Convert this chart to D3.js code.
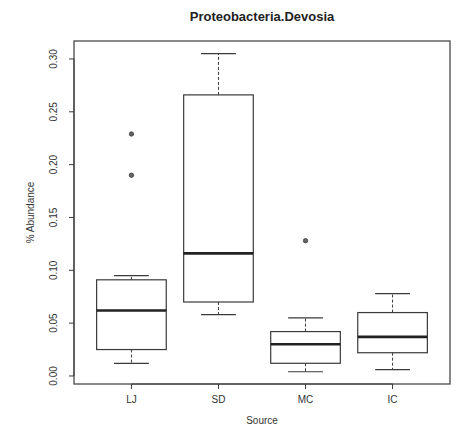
<!DOCTYPE html>
<html>
<head>
<meta charset="utf-8">
<script src="https://cdn.jsdelivr.net/npm/d3@7"></script>
<style>
  html, body { margin: 0; padding: 0; background: #fff; }
  svg { display: block; font-family: "Liberation Sans", Arial, sans-serif; }
</style>
</head>
<body>
<svg id="chart" width="462" height="435"></svg>
<script>
// Groups along the x axis
const groups = ["LJ", "SD", "MC", "IC"];
// Five-number summaries per group (lower whisker, Q1, median, Q3, upper whisker)
const whiskerLow  = [0.012, 0.058, 0.004, 0.006];
const boxLow      = [0.025, 0.070, 0.012, 0.022];
const medians     = [0.062, 0.116, 0.030, 0.037];
const boxHigh     = [0.091, 0.266, 0.042, 0.060];
const whiskerHigh = [0.095, 0.305, 0.055, 0.078];
// Outlying points: group index and value
const outlierGroup = [0, 0, 2];
const outlierValue = [0.229, 0.190, 0.128];
// Y axis tick values
const yTicks = [0.00, 0.05, 0.10, 0.15, 0.20, 0.25, 0.30];

const svg = d3.select("#chart");
const plot = { left: 74, right: 450, top: 41, bottom: 384 };
const ink = "#3a3a3a";

const x = d3.scaleLinear().domain([0.34, 4.66]).range([plot.left, plot.right]);
const y = d3.scaleLinear().domain([-0.0076, 0.317]).range([plot.bottom, plot.top]);

const boxHalf = x(1.4) - x(1);      // boxes are 0.8 group-units wide
const capHalf = boxHalf / 2;

const g = svg.append("g");

groups.forEach((name, i) => {
  const cx = x(i + 1);
  // whiskers
  g.append("line").attr("x1", cx).attr("x2", cx)
    .attr("y1", y(boxHigh[i])).attr("y2", y(whiskerHigh[i]))
    .attr("stroke", ink).attr("stroke-width", 1).attr("stroke-dasharray", "3,2");
  g.append("line").attr("x1", cx).attr("x2", cx)
    .attr("y1", y(boxLow[i])).attr("y2", y(whiskerLow[i]))
    .attr("stroke", ink).attr("stroke-width", 1).attr("stroke-dasharray", "3,2");
  // staples
  [whiskerHigh[i], whiskerLow[i]].forEach(v => {
    g.append("line").attr("x1", cx - capHalf).attr("x2", cx + capHalf)
      .attr("y1", y(v)).attr("y2", y(v))
      .attr("stroke", ink).attr("stroke-width", 1.2);
  });
  // box
  g.append("rect")
    .attr("x", cx - boxHalf).attr("width", 2 * boxHalf)
    .attr("y", y(boxHigh[i])).attr("height", y(boxLow[i]) - y(boxHigh[i]))
    .attr("fill", "none").attr("stroke", ink).attr("stroke-width", 1.2);
  // median
  g.append("line").attr("x1", cx - boxHalf).attr("x2", cx + boxHalf)
    .attr("y1", y(medians[i])).attr("y2", y(medians[i]))
    .attr("stroke", "#222").attr("stroke-width", 2.6);
});

// outliers
outlierValue.forEach((v, k) => {
  g.append("circle")
    .attr("cx", x(outlierGroup[k] + 1)).attr("cy", y(v)).attr("r", 2.2)
    .attr("fill", "#666").attr("stroke", ink).attr("stroke-width", 0.8);
});

// plot frame
svg.append("rect")
  .attr("x", plot.left).attr("y", plot.top)
  .attr("width", plot.right - plot.left).attr("height", plot.bottom - plot.top)
  .attr("fill", "none").attr("stroke", ink).attr("stroke-width", 1.2);

// y axis
const yAxis = svg.append("g").attr("transform", `translate(${plot.left},0)`);
yAxis.append("line").attr("x1", 0).attr("x2", 0)
  .attr("y1", y(yTicks[0])).attr("y2", y(yTicks[yTicks.length - 1]))
  .attr("stroke", ink);
yTicks.forEach(t => {
  yAxis.append("line").attr("x1", 0).attr("x2", -5)
    .attr("y1", y(t)).attr("y2", y(t)).attr("stroke", ink);
  yAxis.append("text")
    .attr("transform", `translate(-21,${y(t)}) rotate(-90)`)
    .attr("text-anchor", "middle").attr("dy", "0.35em")
    .attr("font-size", 10).attr("fill", "#333")
    .text(d3.format(".2f")(t));
});

// x axis
const xAxis = svg.append("g").attr("transform", `translate(0,${plot.bottom})`);
xAxis.append("line").attr("x1", x(1)).attr("x2", x(groups.length))
  .attr("y1", 0).attr("y2", 0).attr("stroke", ink);
groups.forEach((name, i) => {
  xAxis.append("line").attr("x1", x(i + 1)).attr("x2", x(i + 1))
    .attr("y1", 0).attr("y2", 5).attr("stroke", ink);
  xAxis.append("text")
    .attr("x", x(i + 1)).attr("y", 19)
    .attr("text-anchor", "middle")
    .attr("font-size", 10).attr("fill", "#333")
    .text(name);
});

// titles
svg.append("text")
  .attr("x", (plot.left + plot.right) / 2).attr("y", 21)
  .attr("text-anchor", "middle")
  .attr("font-size", 13).attr("font-weight", "bold").attr("fill", "#222")
  .text("Proteobacteria.Devosia");

svg.append("text")
  .attr("x", (plot.left + plot.right) / 2).attr("y", 424)
  .attr("text-anchor", "middle")
  .attr("font-size", 10).attr("fill", "#333")
  .text("Source");

svg.append("text")
  .attr("transform", `translate(34,${(plot.top + plot.bottom) / 2}) rotate(-90)`)
  .attr("text-anchor", "middle")
  .attr("font-size", 10).attr("fill", "#333")
  .text("% Abundance");
</script>
</body>
</html>
